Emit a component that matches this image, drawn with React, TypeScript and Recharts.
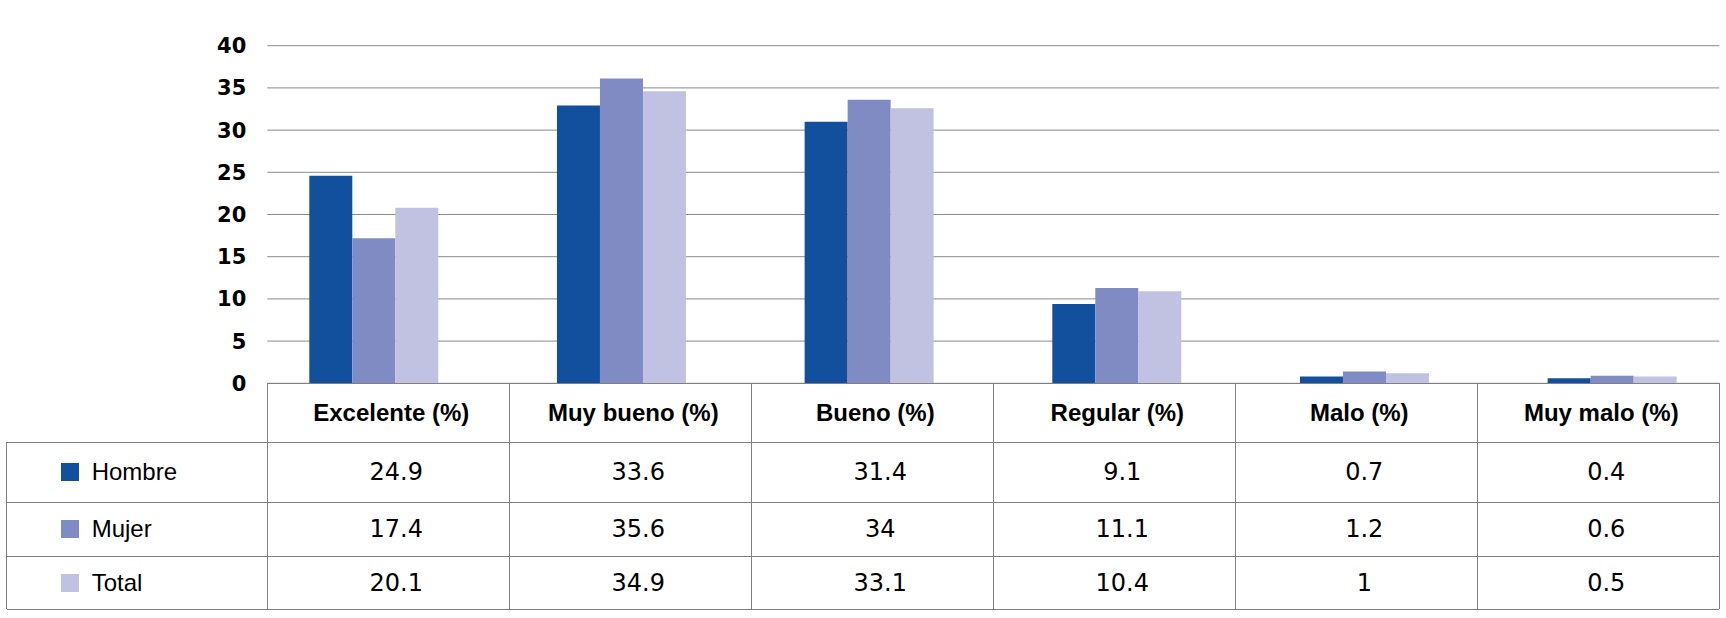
import { Bar, BarChart, CartesianGrid, XAxis, YAxis } from "recharts";

const categories = ["Excelente (%)", "Muy bueno (%)", "Bueno (%)", "Regular (%)", "Malo (%)", "Muy malo (%)"];

// bar heights as drawn in the picture
const hombreBars = [24.6, 32.9, 31.0, 9.4, 0.8, 0.6];
const mujerBars = [17.2, 36.1, 33.6, 11.3, 1.4, 0.9];
const totalBars = [20.8, 34.6, 32.6, 10.9, 1.2, 0.8];

// values printed in the data table
const hombreTable = ["24.9", "33.6", "31.4", "9.1", "0.7", "0.4"];
const mujerTable = ["17.4", "35.6", "34", "11.1", "1.2", "0.6"];
const totalTable = ["20.1", "34.9", "33.1", "10.4", "1", "0.5"];

const yTicks = [0, 5, 10, 15, 20, 25, 30, 35, 40];

const series = [
  { key: "hombre", name: "Hombre", color: "#124F9D", values: hombreTable },
  { key: "mujer", name: "Mujer", color: "#818BC3", values: mujerTable },
  { key: "total", name: "Total", color: "#C1C1E2", values: totalTable },
];

const data = categories.map((cat, i) => ({
  cat,
  hombre: hombreBars[i],
  mujer: mujerBars[i],
  total: totalBars[i],
}));

const W = 1726;
const H = 618;
const PLOT_LEFT = 267.3;
const PLOT_RIGHT = 1719.3;
const PLOT_TOP = 45.7;
const TABLE_TOP = 383.3;
const LEGEND_LEFT = 6.7;
const ROW_LINES = [383.3, 442.3, 502.3, 556, 609.5];
const LINE = "#808080";

function DataTable() {
  const colW = (PLOT_RIGHT - PLOT_LEFT) / categories.length;
  const els = [];

  // horizontal lines
  ROW_LINES.forEach((y, i) => {
    const x0 = i === 0 ? PLOT_LEFT : LEGEND_LEFT;
    els.push(
      <div key={"h" + i} style={{ position: "absolute", left: x0, top: y - 0.5, width: PLOT_RIGHT - x0, height: 1, background: LINE }} />
    );
  });
  // vertical lines
  els.push(
    <div key="vl" style={{ position: "absolute", left: LEGEND_LEFT - 0.5, top: ROW_LINES[1], width: 1, height: ROW_LINES[4] - ROW_LINES[1], background: LINE }} />
  );
  for (let i = 0; i <= categories.length; i++) {
    els.push(
      <div key={"v" + i} style={{ position: "absolute", left: PLOT_LEFT + i * colW - 0.5, top: TABLE_TOP, width: 1, height: ROW_LINES[4] - TABLE_TOP, background: LINE }} />
    );
  }

  const cell = (key, x, y0, y1, w, content, extra = {}) => (
    <div
      key={key}
      style={{
        position: "absolute",
        left: x,
        top: y0,
        width: w,
        height: y1 - y0,
        display: "flex",
        alignItems: "center",
        justifyContent: "center",
        ...extra,
      }}
    >
      {content}
    </div>
  );

  // header
  categories.forEach((c, i) => {
    els.push(
      cell("hd" + i, PLOT_LEFT + i * colW + 3, ROW_LINES[0], ROW_LINES[1], colW, c, {
        fontFamily: "'Liberation Sans', Arial, sans-serif",
        fontWeight: 700,
        fontSize: 24,
        color: "#000",
      })
    );
  });

  // rows
  series.forEach((s, r) => {
    const y0 = ROW_LINES[r + 1];
    const y1 = ROW_LINES[r + 2];
    els.push(
      cell(
        "lg" + r,
        LEGEND_LEFT,
        y0,
        y1,
        PLOT_LEFT - LEGEND_LEFT,
        <>
          <span style={{ display: "inline-block", width: 18, height: 18, background: s.color, marginLeft: 54 }} />
          <span style={{ marginLeft: 13 }}>{s.name}</span>
        </>,
        {
          justifyContent: "flex-start",
          fontFamily: "'Liberation Sans', Arial, sans-serif",
          fontSize: 24,
          color: "#000",
        }
      )
    );
    s.values.forEach((v, i) => {
      els.push(
        cell("c" + r + "-" + i, PLOT_LEFT + i * colW + 8, y0, y1, colW, v, {
          fontFamily: "'DejaVu Sans', sans-serif",
          fontSize: 24,
          color: "#000",
        })
      );
    });
  });

  return <>{els}</>;
}

export default function App() {
  return (
    <div style={{ position: "absolute", left: 0, top: 0, width: W, height: H, background: "#fff", overflow: "hidden" }}>
      <BarChart
        width={W}
        height={H}
        data={data}
        margin={{ top: PLOT_TOP, right: W - PLOT_RIGHT, left: 0, bottom: H - TABLE_TOP }}
        barCategoryGap={59}
        barGap={0}
      >
        <CartesianGrid vertical={false} stroke="#8a8a8a" />
        <XAxis dataKey="cat" hide height={0} padding={{ left: -17, right: -17 }} />
        <YAxis
          width={PLOT_LEFT}
          domain={[0, 40]}
          ticks={yTicks}
          interval={0}
          axisLine={false}
          tickLine={false}
          tickSize={0}
          tickMargin={21}
          tick={{ fill: "#000", fontSize: 21, fontWeight: 700, fontFamily: "'DejaVu Sans', sans-serif" }}
        />
        <Bar dataKey="hombre" name="Hombre" fill="#124F9D" isAnimationActive={false} />
        <Bar dataKey="mujer" name="Mujer" fill="#818BC3" isAnimationActive={false} />
        <Bar dataKey="total" name="Total" fill="#C1C1E2" isAnimationActive={false} />
      </BarChart>
      <DataTable />
    </div>
  );
}
